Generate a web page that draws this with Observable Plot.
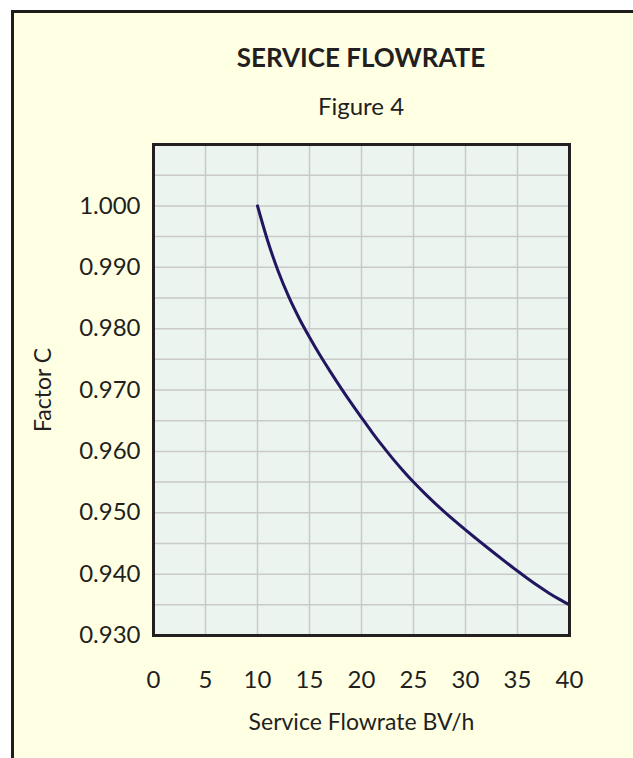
<!DOCTYPE html>
<html>
<head>
<meta charset="utf-8">
<script src="https://cdn.jsdelivr.net/npm/d3@7"></script>
<script src="https://cdn.jsdelivr.net/npm/@observablehq/plot@0.6"></script>
<style>
  html, body { margin: 0; padding: 0; background: #ffffff; width: 633px; height: 758px; overflow: hidden; }
  #panel { position: absolute; left: 11px; top: 10px; width: 700px; height: 800px;
           border-top: 3px solid #1f1c1a; border-left: 3px solid #1f1c1a; background: #ffffe4; }
  .ttl { position: absolute; left: 0; width: 722px; text-align: center; color: #231f20; font-family: Lato, "Open Sans", sans-serif; white-space: nowrap; }
  #title { top: 44px; font-size: 26px; line-height: 26px; font-weight: 700; }
  #subtitle { top: 94px; font-size: 24px; line-height: 24px; font-weight: 400; }
  #chart { position: absolute; left: 0; top: 130px; }
</style>
</head>
<body>
<div id="panel"></div>
<div id="title" class="ttl">SERVICE FLOWRATE</div>
<div id="subtitle" class="ttl">Figure 4</div>
<div id="chart"></div>
<script>
// Service flowrate (BV/h) and correction factor C
const flowrate = [10, 11, 12, 13, 14, 15, 16, 17, 18, 19, 20,
                  21, 22, 23, 24, 25, 26, 27, 28, 29, 30,
                  31, 32, 33, 34, 35, 36, 37, 38, 39, 40];
const factorC  = [1.0000, 0.9942, 0.9893, 0.9852, 0.9817, 0.9786, 0.9757, 0.9730, 0.9704, 0.9679, 0.9655,
                  0.96315, 0.96093, 0.95882, 0.95686, 0.95500, 0.95328, 0.95165, 0.95010, 0.94862, 0.94720,
                  0.94582, 0.94446, 0.94312, 0.94180, 0.94050, 0.93925, 0.93805, 0.93693, 0.93592, 0.93500];

const xTickValues = [0, 5, 10, 15, 20, 25, 30, 35, 40];
const yTickValues = [0.930, 0.940, 0.950, 0.960, 0.970, 0.980, 0.990, 1.000];
const xGridValues = [0, 5, 10, 15, 20, 25, 30, 35, 40];
const yGridValues = [0.930, 0.935, 0.940, 0.945, 0.950, 0.955, 0.960, 0.965, 0.970, 0.975,
                     0.980, 0.985, 0.990, 0.995, 1.000, 1.005, 1.010];
const xDomain = [0, 40];
const yDomain = [0.930, 1.010];

const data = flowrate.map((x, i) => ({flowrate: x, factor: factorC[i]}));

const chart = Plot.plot({
  width: 633,
  height: 628,
  marginLeft: 153,
  marginRight: 64,
  marginTop: 14,
  marginBottom: 123,
  style: {background: "transparent", fontFamily: "Lato, 'Open Sans', sans-serif", color: "#231f20", overflow: "visible"},
  x: {domain: xDomain},
  y: {domain: yDomain},
  marks: [
    Plot.frame({fill: "#ebf4ef", stroke: null}),
    Plot.gridX(xGridValues, {stroke: "#c9c9c9", strokeOpacity: 1, strokeWidth: 1.5}),
    Plot.gridY(yGridValues, {stroke: "#c9c9c9", strokeOpacity: 1, strokeWidth: 1.5}),
    Plot.line(data, {x: "flowrate", y: "factor", curve: "monotone-x", stroke: "#21165f", strokeWidth: 3}),
    Plot.frame({stroke: "#231f20", strokeWidth: 3}),
    Plot.axisX(xTickValues, {tickSize: 0, tickPadding: 35, fontSize: 24, label: null}),
    Plot.axisX([], {fontSize: 23, label: "Service Flowrate BV/h", labelAnchor: "center", labelArrow: "none", labelOffset: 94}),
    Plot.axisY(yTickValues, {tickSize: 0, tickPadding: 13, tickFormat: ".3f", fontSize: 24, label: null}),
    Plot.axisY([], {fontSize: 23, label: "Factor C", labelAnchor: "center", labelArrow: "none", labelOffset: 119})
  ]
});
document.getElementById("chart").appendChild(chart);
</script>
</body>
</html>
